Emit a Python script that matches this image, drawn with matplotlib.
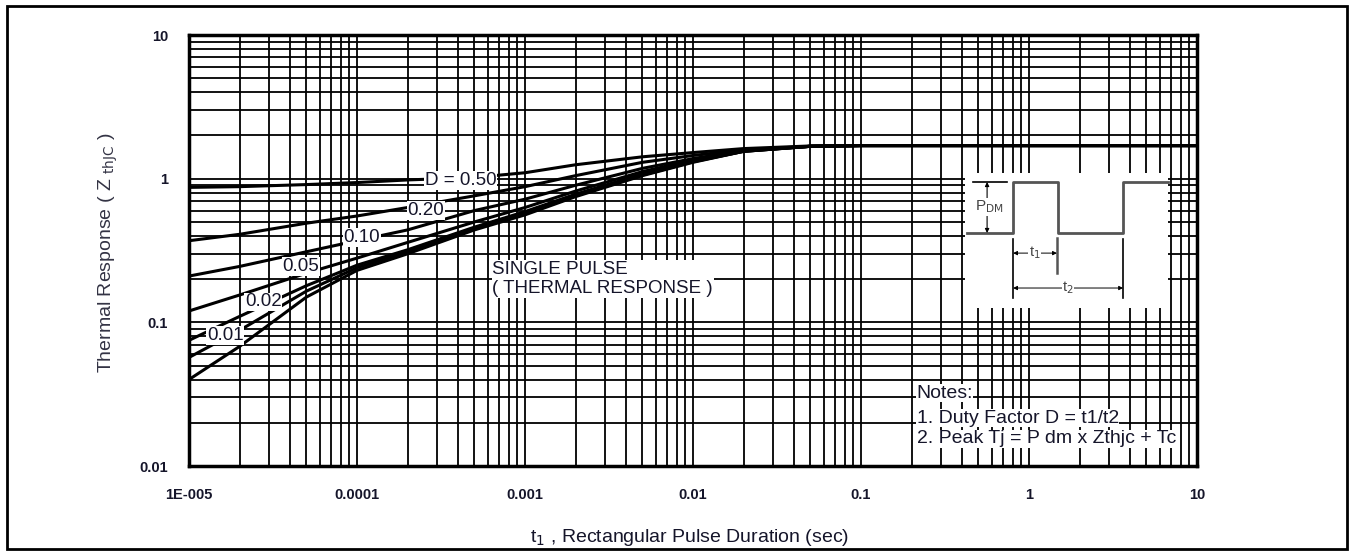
import numpy as np
import matplotlib
matplotlib.use("Agg")
import matplotlib.pyplot as plt
from matplotlib.ticker import FixedLocator, NullFormatter, LogLocator
from matplotlib.patches import Rectangle

plt.rcParams['font.family'] = ['Liberation Sans', 'DejaVu Sans']

# pulse durations (sec)
t = [1e-5, 2e-5, 5e-5, 1e-4, 2e-4, 5e-4, 1e-3, 2e-3, 5e-3, 1e-2, 2e-2, 5e-2, 1e-1, 10]

# thermal response per duty factor
z_single = [0.040, 0.068, 0.15, 0.23, 0.30, 0.44, 0.56, 0.75, 1.05, 1.30, 1.55, 1.68, 1.70, 1.70]
z_d001 = [0.057, 0.088, 0.165, 0.24, 0.31, 0.45, 0.575, 0.76, 1.06, 1.31, 1.55, 1.68, 1.70, 1.70]
z_d002 = [0.075, 0.11, 0.18, 0.25, 0.32, 0.46, 0.59, 0.78, 1.08, 1.32, 1.55, 1.68, 1.70, 1.70]
z_d005 = [0.12, 0.155, 0.22, 0.28, 0.36, 0.50, 0.63, 0.82, 1.12, 1.35, 1.56, 1.68, 1.70, 1.70]
z_d010 = [0.21, 0.245, 0.31, 0.37, 0.44, 0.60, 0.72, 0.90, 1.18, 1.38, 1.57, 1.68, 1.70, 1.70]
z_d020 = [0.37, 0.41, 0.49, 0.55, 0.63, 0.76, 0.88, 1.05, 1.30, 1.45, 1.59, 1.68, 1.70, 1.70]
z_d050 = [0.87, 0.88, 0.91, 0.94, 0.98, 1.02, 1.10, 1.25, 1.42, 1.52, 1.62, 1.69, 1.70, 1.70]

# curve labels: text, x, y
labels = ["D = 0.50", "0.20", "0.10", "0.05", "0.02", "0.01"]
label_x = [2.54e-4, 2.0e-4, 8.3e-5, 3.6e-5, 2.15e-5, 1.28e-5]
label_y = [0.97, 0.60, 0.39, 0.244, 0.139, 0.081]

xticks = [1e-5, 1e-4, 1e-3, 1e-2, 1e-1, 1, 10]
xtick_labels = ["1E-005", "0.0001", "0.001", "0.01", "0.1", "1", "10"]
yticks = [0.01, 0.1, 1, 10]
ytick_labels = ["0.01", "0.1", "1", "10"]

notes = ["Notes:", "1. Duty Factor D = t1/t2", "2. Peak Tj = P dm x Zthjc + Tc"]

TXT = "#15152a"
fig = plt.figure(figsize=(13.54, 5.54), dpi=100, facecolor="white")
ax = fig.add_axes([0.1396, 0.1588, 0.7445, 0.778])

ax.set_xscale("log")
ax.set_yscale("log")
ax.set_xlim(1e-5, 10)
ax.set_ylim(0.01, 10)

# dense black log grid
ax.xaxis.set_minor_locator(LogLocator(base=10, subs=np.arange(2, 10)))
ax.yaxis.set_minor_locator(LogLocator(base=10, subs=np.arange(2, 10)))
ax.xaxis.set_minor_formatter(NullFormatter())
ax.yaxis.set_minor_formatter(NullFormatter())
ax.grid(True, which="both", color="black", linewidth=1.3)
ax.set_axisbelow(True)

for z in [z_single, z_d001, z_d002, z_d005, z_d010, z_d020, z_d050]:
    ax.plot(t, z, color="black", linewidth=2.2, solid_capstyle="butt", zorder=3)

for s, lx, ly in zip(labels, label_x, label_y):
    ax.text(lx, ly, s, fontsize=13.5, ha="left", va="center", color=TXT, zorder=5,
            bbox=dict(facecolor="white", edgecolor="none", pad=0.5))

ax.text(6.4e-4, 0.20, "SINGLE PULSE\n( THERMAL RESPONSE )", fontsize=13.5, ha="left",
        va="center", color=TXT, linespacing=1.2, zorder=5,
        bbox=dict(facecolor="white", edgecolor="none", pad=0.5))

# notes (bottom right, inside axes)
tr = ax.transAxes
for s, yy in zip(notes, [0.169, 0.111, 0.063]):
    ax.text(0.7217, yy, s, transform=tr, fontsize=14, ha="left", va="center",
            color=TXT, zorder=5, bbox=dict(facecolor="white", edgecolor="none", pad=0.3))

# pulse schematic inset
ax.add_patch(Rectangle((0.770, 0.367), 0.201, 0.313, transform=tr, facecolor="white",
                       edgecolor="none", zorder=4))
gray = "#555555"
wx = [0.772, 0.8175, 0.8175, 0.862, 0.862, 0.9266, 0.9266, 0.971]
wy = [0.5406, 0.5406, 0.659, 0.659, 0.5406, 0.5406, 0.659, 0.659]
ax.plot(wx, wy, transform=tr, color=gray, linewidth=2.0, zorder=5)
ax.plot([0.778, 0.8115], [0.659, 0.659], transform=tr, color="black", linewidth=1.2, zorder=5)
ax.annotate("", xy=(0.7917, 0.659), xytext=(0.7917, 0.5406), xycoords=tr,
            arrowprops=dict(arrowstyle="<|-|>", color="black", lw=0.8,
                            mutation_scale=6, shrinkA=0, shrinkB=0), zorder=5)
ax.text(0.7800, 0.601, "P$_{\\rm DM}$", transform=tr, fontsize=11, ha="left", va="center",
        color="#444444", zorder=6, bbox=dict(facecolor="white", edgecolor="none", pad=0.2))

ax.plot([0.8175, 0.8175], [0.527, 0.39], transform=tr, color="black", linewidth=1.2, zorder=5)
ax.plot([0.861, 0.861], [0.53, 0.448], transform=tr, color=gray, linewidth=1.8, zorder=5)
ax.plot([0.9266, 0.9266], [0.527, 0.39], transform=tr, color="black", linewidth=1.2, zorder=5)
for x0, x1, yy in [(0.8175, 0.861, 0.494), (0.8175, 0.9266, 0.413)]:
    ax.annotate("", xy=(x1, yy), xytext=(x0, yy), xycoords=tr,
                arrowprops=dict(arrowstyle="<|-|>", color="black", lw=0.7,
                                mutation_scale=6, shrinkA=0, shrinkB=0), zorder=5)
ax.text(0.839, 0.494, "t$_1$", transform=tr, fontsize=10.5, ha="center", va="center",
        color="#444444", zorder=6, bbox=dict(facecolor="white", edgecolor="none", pad=0.3))
ax.text(0.872, 0.413, "t$_2$", transform=tr, fontsize=10.5, ha="center", va="center",
        color="#444444", zorder=6, bbox=dict(facecolor="white", edgecolor="none", pad=0.3))

# ticks and labels
ax.xaxis.set_major_locator(FixedLocator(xticks))
ax.set_xticklabels(xtick_labels)
ax.yaxis.set_major_locator(FixedLocator(yticks))
ax.set_yticklabels(ytick_labels)
ax.tick_params(which="both", length=0, labelsize=10.5, colors=TXT)
ax.tick_params(axis="x", pad=16)
ax.tick_params(axis="y", pad=15)
for lab in ax.get_xticklabels() + ax.get_yticklabels():
    lab.set_fontweight("bold")

for sp in ax.spines.values():
    sp.set_linewidth(2.5)
    sp.set_color("black")
    sp.set_zorder(7)

ax.set_xlabel("t$_1$ , Rectangular Pulse Duration (sec)", fontsize=14, color=TXT)
ax.xaxis.set_label_coords(0.497, -0.165)
ax.xaxis.label.set_va("center")
ax.set_ylabel("Thermal Response ( Z $_{\\rm thJC}$ )", fontsize=14, color="#333344")
ax.yaxis.set_label_coords(-0.0804, 0.494)
ax.yaxis.label.set_va("center")

# figure frame
fig.patches.append(Rectangle((7 / 1354, 5 / 554), 1340 / 1354, 543 / 554,
                             transform=fig.transFigure, facecolor="none",
                             edgecolor="black", linewidth=2.0))

fig.savefig("out.png", dpi=100, facecolor="white")
